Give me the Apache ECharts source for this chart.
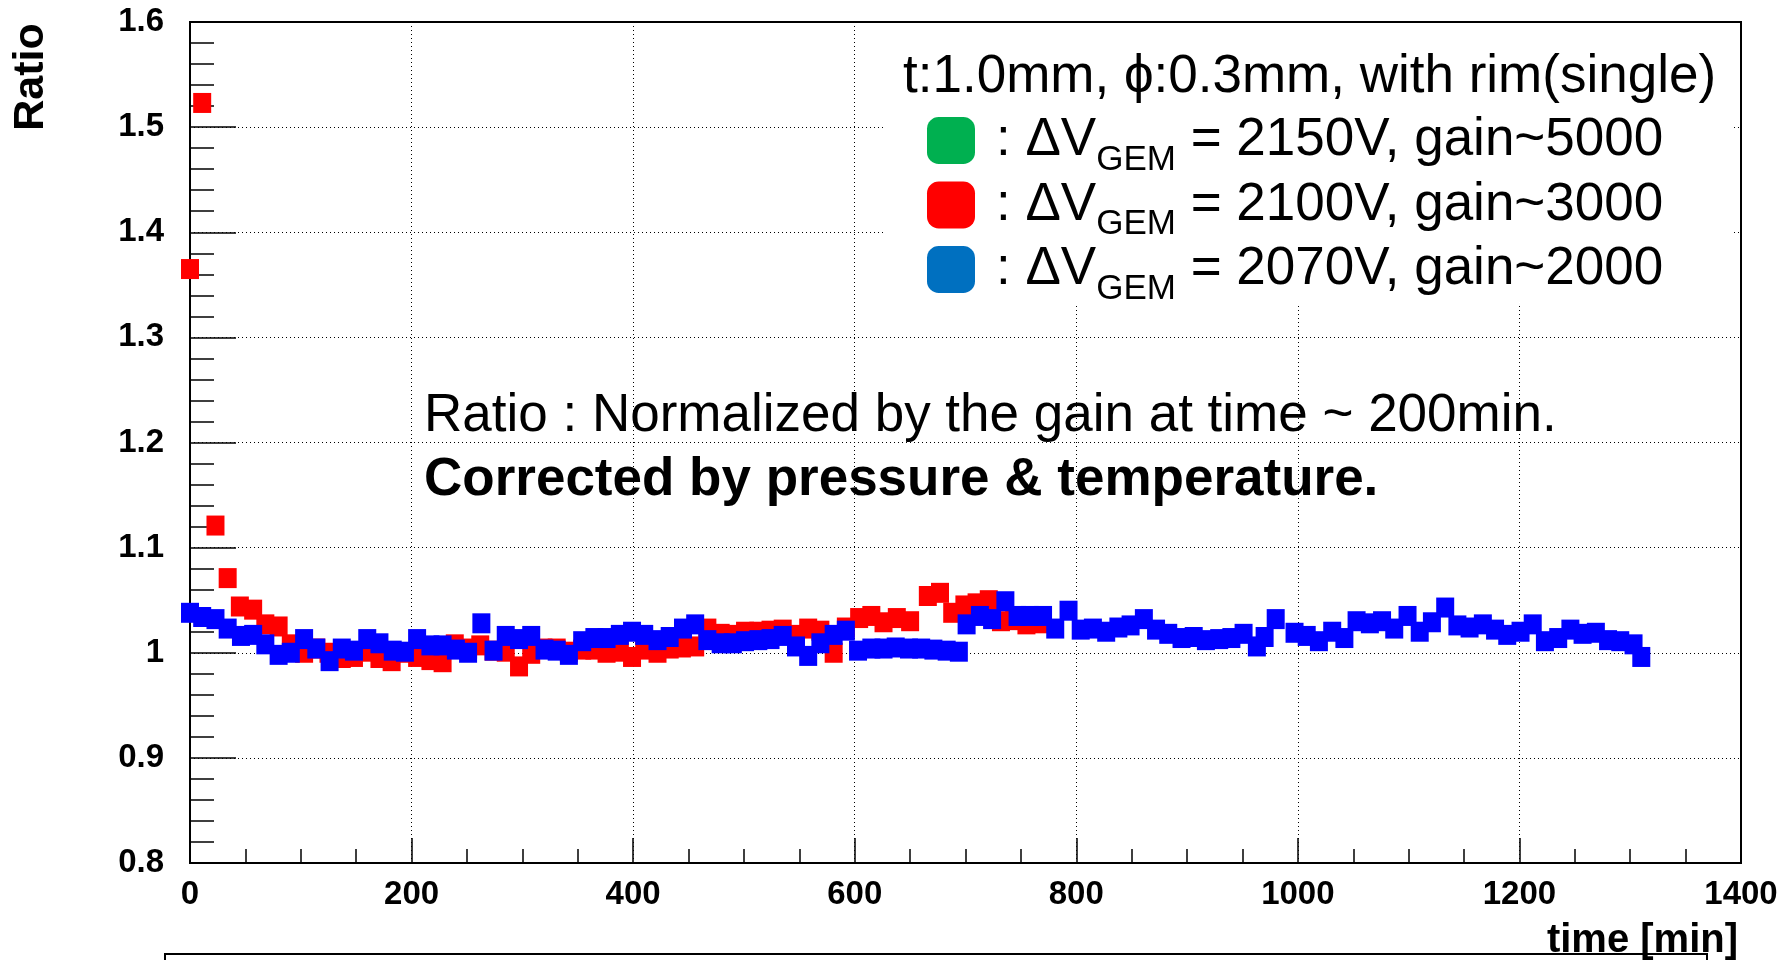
<!DOCTYPE html>
<html>
<head>
<meta charset="utf-8">
<title>Gain ratio vs time</title>
<script src="https://cdn.jsdelivr.net/npm/echarts@6/dist/echarts.min.js"></script>
<style>
  html, body { margin: 0; padding: 0; background: #fff; }
  #chart { width: 1781px; height: 960px; }
</style>
</head>
<body>
<div id="chart"></div>
<script>
// 2150V run: only in the legend, no points drawn
const green2150 = [];

// 2100V run, [time (min), ratio]
const red2100 = [
  [0, 1.365], [11, 1.523], [23, 1.121], [34, 1.071], [45, 1.044], [57, 1.041],
  [68, 1.027], [80, 1.025], [91, 1.008], [103, 1.000], [114, 1.004], [125, 1.000],
  [137, 0.995], [148, 0.996], [160, 1.001], [171, 0.995], [182, 0.992], [194, 1.000],
  [205, 0.996], [217, 0.993], [228, 0.991], [239, 1.008], [251, 1.004], [262, 1.007],
  [274, 1.002], [285, 1.001], [297, 0.987], [308, 0.999], [319, 1.004], [331, 1.004],
  [342, 1.001], [354, 1.003], [365, 1.003], [376, 1.000], [388, 1.001], [399, 0.996],
  [410, 1.003], [422, 1.000], [433, 1.004], [444, 1.005], [456, 1.006], [467, 1.023],
  [479, 1.018], [490, 1.017], [501, 1.020], [513, 1.020], [524, 1.021], [535, 1.022],
  [547, 1.017], [558, 1.023], [569, 1.021], [581, 1.000], [592, 1.024], [604, 1.033],
  [615, 1.035], [626, 1.029], [638, 1.033], [650, 1.030], [666, 1.054], [677, 1.057],
  [688, 1.038], [699, 1.045], [710, 1.047], [721, 1.050], [732, 1.030], [744, 1.031],
  [755, 1.027], [766, 1.028]
];

// 2070V run, [time (min), ratio]
const blue2070 = [
  [0, 1.038], [11, 1.034], [23, 1.032], [34, 1.023], [46, 1.016], [57, 1.017],
  [68, 1.008], [80, 0.998], [91, 1.000], [103, 1.013], [114, 1.004], [126, 0.992],
  [137, 1.004], [148, 1.002], [160, 1.013], [171, 1.009], [183, 1.002], [194, 1.001],
  [205, 1.013], [217, 1.007], [228, 1.007], [240, 1.003], [251, 1.000], [263, 1.028],
  [274, 1.002], [285, 1.016], [297, 1.013], [308, 1.016], [320, 1.003], [331, 1.002],
  [342, 0.998], [354, 1.011], [365, 1.014], [376, 1.014], [388, 1.017], [399, 1.020],
  [410, 1.017], [422, 1.012], [433, 1.015], [445, 1.023], [456, 1.027], [467, 1.012],
  [479, 1.009], [490, 1.009], [501, 1.011], [513, 1.012], [524, 1.013], [535, 1.016],
  [547, 1.006], [558, 0.997], [569, 1.009], [581, 1.017], [592, 1.021], [603, 1.002],
  [615, 1.004], [626, 1.004], [637, 1.005], [649, 1.004], [660, 1.004], [671, 1.003],
  [683, 1.002], [694, 1.001], [701, 1.027], [713, 1.035], [724, 1.032], [736, 1.049],
  [747, 1.035], [758, 1.035], [770, 1.035], [781, 1.023], [793, 1.040], [804, 1.022],
  [815, 1.023], [827, 1.020], [838, 1.024], [849, 1.026], [861, 1.032], [872, 1.022],
  [883, 1.018], [895, 1.014], [906, 1.015], [917, 1.012], [929, 1.013], [940, 1.014],
  [951, 1.018], [963, 1.006], [970, 1.015], [980, 1.032], [997, 1.019], [1008, 1.016],
  [1019, 1.011], [1031, 1.020], [1042, 1.014], [1053, 1.030], [1065, 1.028], [1076, 1.030],
  [1087, 1.023], [1099, 1.035], [1110, 1.020], [1121, 1.029], [1133, 1.043], [1144, 1.026],
  [1155, 1.024], [1167, 1.027], [1178, 1.022], [1189, 1.017], [1201, 1.020], [1212, 1.027],
  [1223, 1.011], [1235, 1.014], [1246, 1.022], [1257, 1.018], [1269, 1.019], [1280, 1.012],
  [1291, 1.011], [1303, 1.008], [1310, 0.996]
];

const seriesNames = ['dv2150', 'dv2100', 'dv2070'];
const legendVoltages = ['2150V', '2100V', '2070V'];
const legendGains = ['5000', '3000', '2000'];
const legendColors = ['#00b050', '#ff0000', '#0070c0'];
const markColors = ['#00b050', '#ff0000', '#0000ff'];

const FONT = '"Liberation Sans", Arial, Helvetica, sans-serif';

const chart = echarts.init(document.getElementById('chart'));

const axisCommon = {
  type: 'value',
  axisLine: { show: true, onZero: false, lineStyle: { color: '#000', width: 2 } },
  axisLabel: { color: '#000', fontSize: 33, fontWeight: 'bold', fontFamily: FONT },
  splitLine: { show: true, lineStyle: { color: '#000', width: 1, type: [1, 3] } }
};

const option = {
  animation: false,
  backgroundColor: '#fff',
  grid: {
    left: 190, right: 40, top: 22, bottom: 97,
    show: true, borderColor: '#000', borderWidth: 2, backgroundColor: 'transparent'
  },
  xAxis: Object.assign({}, axisCommon, {
    min: 0, max: 1400, interval: 200,
    axisTick: { inside: true, length: 25, lineStyle: { color: '#000', width: 1.5 } },
    minorTick: { show: true, splitNumber: 4, length: 14, lineStyle: { color: '#000', width: 1.5 } },
    axisLabel: Object.assign({}, axisCommon.axisLabel, {
      margin: 15,
      formatter: v => String(v)
    })
  }),
  yAxis: Object.assign({}, axisCommon, {
    min: 0.8, max: 1.6, interval: 0.1,
    axisTick: { inside: true, length: 46, lineStyle: { color: '#000', width: 1.5 } },
    minorTick: { show: true, splitNumber: 5, length: 24, lineStyle: { color: '#000', width: 1.5 } },
    axisLabel: Object.assign({}, axisCommon.axisLabel, {
      margin: 26,
      formatter: v => String(Math.round(v * 10) / 10)
    })
  }),
  legend: {
    orient: 'vertical',
    left: 927, top: 114,
    padding: 0,
    itemGap: 1,
    itemWidth: 48, itemHeight: 47,
    icon: 'roundRect',
    selectedMode: false,
    z: 4,
    data: seriesNames.map((n, i) => ({ name: n, itemStyle: { color: legendColors[i], borderWidth: 0 } })),
    formatter: function (name) {
      const i = seriesNames.indexOf(name);
      return '{p|:}{m| ΔV}{s|GEM}{m| = ' + legendVoltages[i] + ', gain~' + legendGains[i] + '}';
    },
    textStyle: {
      color: '#000',
      rich: {
        p: { fontSize: 53, lineHeight: 52, fontFamily: FONT, color: '#000', padding: [0, 0, 0, 16] },
        m: { fontSize: 53, lineHeight: 52, fontFamily: FONT, color: '#000' },
        s: {
          fontSize: 35, lineHeight: 52, fontFamily: FONT, color: '#000',
          verticalAlign: 'top', padding: [28, 0, 0, 0]
        }
      }
    }
  },
  graphic: [
    {
      type: 'rect', z: 3, silent: true,
      shape: { x: 884, y: 24, width: 850, height: 281 },
      style: { fill: '#fff' }
    },
    {
      type: 'text', z: 5, x: 903, y: 77,
      style: {
        text: 't:1.0mm, ϕ:0.3mm, with rim(single)',
        font: '53px ' + FONT, fill: '#000', verticalAlign: 'middle'
      }
    },
    {
      type: 'text', z: 5, x: 424, y: 416,
      style: {
        text: 'Ratio : Normalized by the gain at time ~ 200min.',
        font: '53px ' + FONT, fill: '#000', verticalAlign: 'middle'
      }
    },
    {
      type: 'text', z: 5, x: 424, y: 480,
      style: {
        text: 'Corrected by pressure & temperature.',
        font: 'bold 53px ' + FONT, fill: '#000', verticalAlign: 'middle'
      }
    },
    {
      type: 'text', z: 5, x: 31, y: 77, rotation: Math.PI / 2,
      style: {
        text: 'Ratio', font: 'bold 43px ' + FONT, fill: '#000',
        align: 'center', verticalAlign: 'middle'
      }
    },
    {
      type: 'rect', z: 1, silent: true,
      shape: { x: 165, y: 954, width: 1542, height: 30 },
      style: { fill: 'none', stroke: '#000', lineWidth: 2 }
    },
    {
      type: 'text', z: 5, x: 1738, y: 941,
      style: {
        text: 'time [min]', font: 'bold 40px ' + FONT, fill: '#000',
        align: 'right', verticalAlign: 'middle'
      }
    }
  ],
  series: [green2150, red2100, blue2070].map((d, i) => ({
    name: seriesNames[i],
    type: 'scatter',
    data: d,
    symbol: 'rect',
    symbolSize: [18, 20],
    clip: false,
    silent: true,
    itemStyle: { color: markColors[i], opacity: 1 }
  }))
};

chart.setOption(option);
</script>
</body>
</html>
